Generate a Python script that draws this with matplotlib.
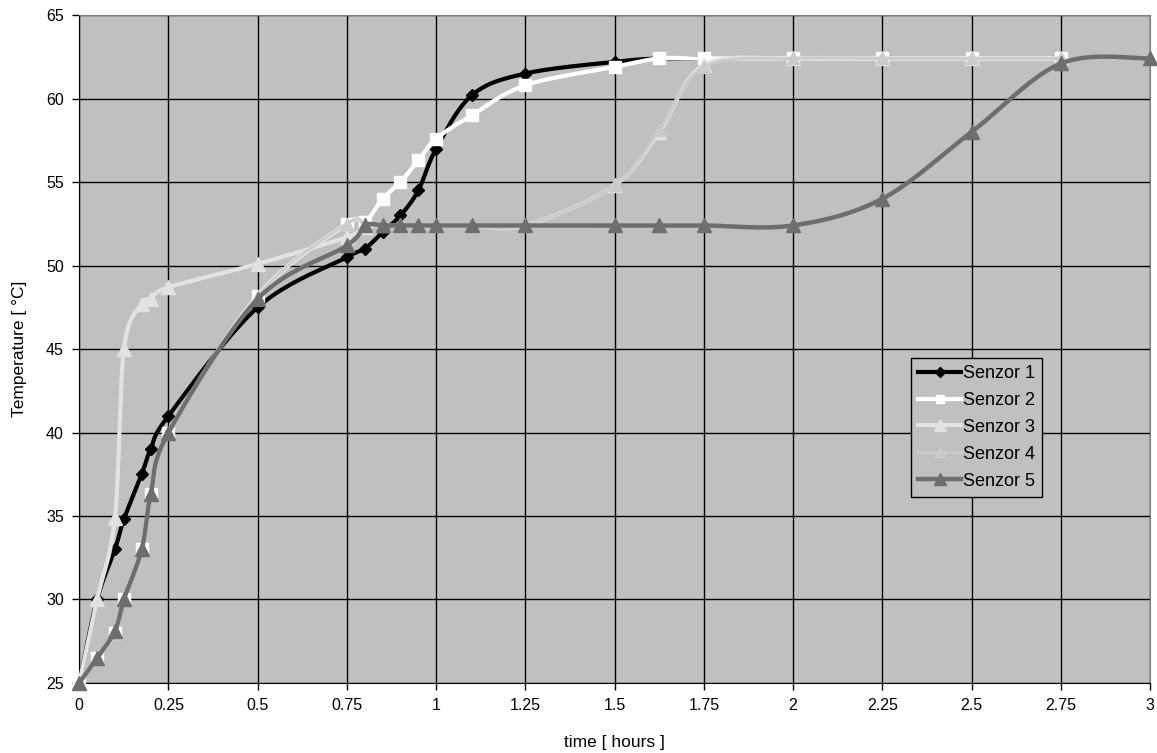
import numpy as np
import matplotlib
matplotlib.use("Agg")
import matplotlib.pyplot as plt
from matplotlib.lines import Line2D

plt.rcParams['font.family'] = ['Liberation Sans', 'DejaVu Sans']

# time points (hours)
t_s1 = [0, 0.05, 0.1, 0.125, 0.175, 0.2, 0.25, 0.5, 0.75, 0.8, 0.85, 0.9, 0.95, 1.0,
        1.1, 1.25, 1.5, 1.625, 1.75]
t_mid = [0, 0.05, 0.1, 0.125, 0.175, 0.2, 0.25, 0.5, 0.75, 0.8, 0.85, 0.9, 0.95, 1.0,
         1.1, 1.25, 1.5, 1.625, 1.75, 2.0, 2.25, 2.5, 2.75]
t_s5 = t_mid + [3.0]

# temperatures (deg C)
senzor1 = [25, 30, 33, 34.8, 37.5, 39, 41, 47.5, 50.5, 51, 52, 53, 54.5, 57,
           60.2, 61.5, 62.2, 62.4, 62.4]
senzor2 = [25, 26.5, 28, 30, 33, 36.3, 40, 48.2, 52.5, 52.6, 54, 55, 56.3, 57.6,
           59, 60.8, 61.9, 62.4, 62.4, 62.4, 62.4, 62.4, 62.4]
senzor3 = [25, 30, 34.9, 45, 47.7, 48.0, 48.7, 50.1, 51.7, 52.3, 52.4, 52.4, 52.4, 52.4,
           52.4, 52.4, 54.8, 58.0, 62.0, 62.4, 62.4, 62.4, 62.4]
senzor4 = [25, 26.5, 28, 30, 33, 36.3, 40, 48.2, 52.5, 52.4, 52.4, 52.4, 52.4, 52.4,
           52.4, 52.4, 54.8, 58.1, 61.9, 62.4, 62.4, 62.4, 62.4]
senzor5 = [25, 26.5, 28.1, 30, 33, 36.3, 40, 48, 51.2, 52.4, 52.4, 52.4, 52.4, 52.4,
           52.4, 52.4, 52.4, 52.4, 52.4, 52.4, 54, 58, 62.1, 62.4]

x_ticks = [0, 0.25, 0.5, 0.75, 1, 1.25, 1.5, 1.75, 2, 2.25, 2.5, 2.75, 3]
x_labels = ['0', '0.25', '0.5', '0.75', '1', '1.25', '1.5', '1.75', '2', '2.25', '2.5', '2.75', '3']
y_ticks = [25, 30, 35, 40, 45, 50, 55, 60, 65]


def smooth(x, y, n=24):
    # Excel-like smoothed line (Catmull-Rom as Bezier segments)
    p = np.column_stack([x, y]).astype(float)
    pp = np.vstack([p[0], p, p[-1]])
    out = [p[0]]
    s = np.linspace(0, 1, n)[1:, None]
    for i in range(1, len(pp) - 2):
        p0, p1, p2, p3 = pp[i - 1], pp[i], pp[i + 1], pp[i + 2]
        c1 = p1 + (p2 - p0) / 6
        c2 = p2 - (p3 - p1) / 6
        seg = ((1 - s) ** 3) * p1 + 3 * ((1 - s) ** 2) * s * c1 + 3 * (1 - s) * s ** 2 * c2 + s ** 3 * p2
        out.extend(seg)
    out = np.array(out)
    return out[:, 0], out[:, 1]


series = [
    (t_s1, senzor1, 'Senzor 1', '#000000', 'D', 6, 3.0),
    (t_mid, senzor2, 'Senzor 2', '#ffffff', 's', 8, 3.0),
    (t_mid, senzor3, 'Senzor 3', '#e2e2e2', '^', 10, 3.0),
    (t_mid, senzor4, 'Senzor 4', '#cbcbcb', '^', 9, 2.2),
    (t_s5, senzor5, 'Senzor 5', '#6e6e6e', '^', 10, 3.2),
]

fig = plt.figure(figsize=(11.57, 7.53), dpi=100)
ax = fig.add_axes([0.0685, 0.093, 0.9255, 0.887])
ax.set_facecolor('#c0c0c0')

handles = []
for i, (t, v, name, col, mk, ms, lw) in enumerate(series):
    sx, sy = smooth(t, v)
    ax.plot(sx, sy, color=col, lw=lw, solid_capstyle='round', zorder=3 + i)
    ax.plot(t, v, linestyle='none', marker=mk, ms=ms, color=col, mec=col, zorder=3 + i,
            clip_on=False)
    handles.append(Line2D([], [], color=col, lw=lw, marker=mk, ms=ms * 0.8, mec=col, label=name))

ax.set_xlim(0, 3)
ax.set_ylim(25, 65)
ax.set_xticks(x_ticks)
ax.set_xticklabels(x_labels)
ax.set_yticks(y_ticks)
ax.grid(True, color='#000000', lw=1, zorder=1)
ax.set_axisbelow(True)
ax.tick_params(direction='out', length=5, width=1, labelsize=11.5, pad=6)

for side in ['top', 'right']:
    ax.spines[side].set_color('#808080')
for side in ['left', 'bottom']:
    ax.spines[side].set_color('#000000')

ax.set_xlabel('time [ hours ]', fontsize=12.5, labelpad=16)
ax.set_ylabel('Temperature [ °C]', fontsize=12.5, labelpad=14)

leg = ax.legend(handles=handles, loc='upper left', bbox_to_anchor=(0.7765, 0.487),
                fontsize=13, frameon=True, fancybox=False, framealpha=1,
                facecolor='#c0c0c0', edgecolor='#000000', handlelength=2.4,
                handletextpad=0.1, labelspacing=0.55, borderpad=0.4, borderaxespad=0)
leg.set_zorder(20)
leg.get_frame().set_linewidth(1)

fig.savefig('out.png', dpi=100)
